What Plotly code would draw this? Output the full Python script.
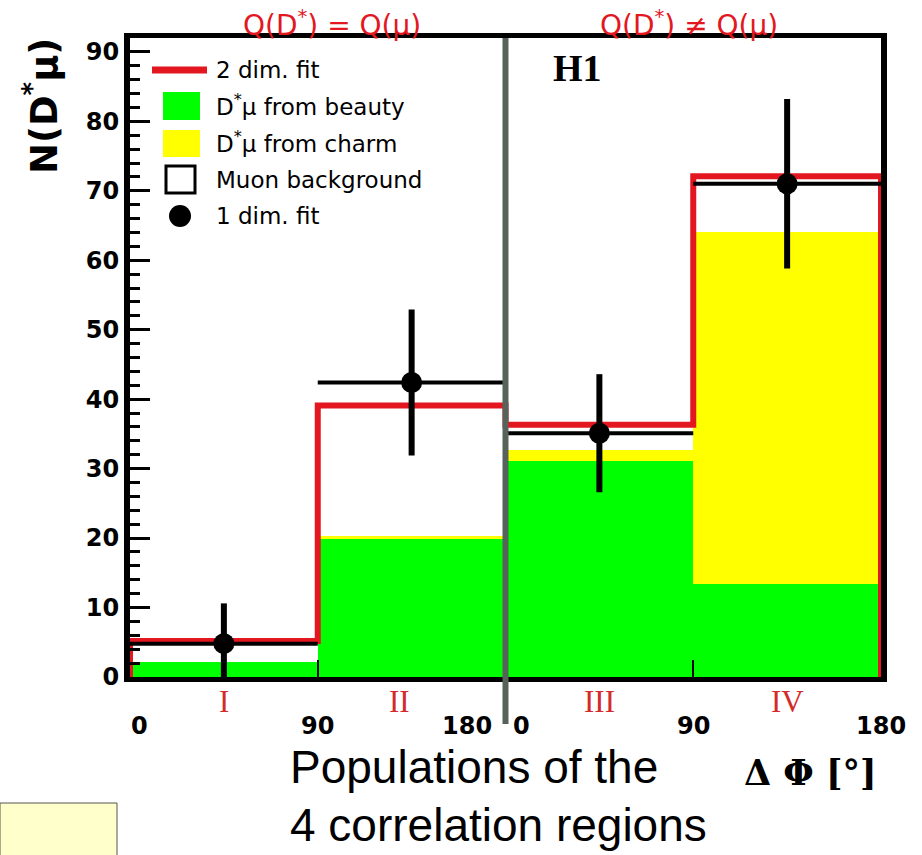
import plotly.graph_objects as go

# ---------------- data ----------------
bin_edges = [0, 90, 180, 270, 360]          # two halves of 0..180 deg each
region_labels = ["I", "II", "III", "IV"]
beauty = [2.2, 19.9, 31.1, 13.4]            # D*mu from beauty
charm = [0.0, 0.4, 1.6, 50.6]               # D*mu from charm
muon_bkg = [3.0, 18.8, 3.6, 8.1]            # muon background
fit1d = [4.8, 42.4, 35.1, 71.0]             # 1 dim. fit
fit1d_err = [5.8, 10.5, 8.5, 12.2]
dphi_ticks = [0, 90, 180]
dphi_tick_text = ["0", "90", "180"]

# ---------------- derived from data ----------------
centers = [(bin_edges[i] + bin_edges[i + 1]) / 2 for i in range(4)]
widths = [bin_edges[i + 1] - bin_edges[i] for i in range(4)]
half_w = [w / 2 for w in widths]
fit2d = [b + c + m for b, c, m in zip(beauty, charm, muon_bkg)]

step_x = [bin_edges[0]] + bin_edges[:-1] + [bin_edges[-1], bin_edges[-1]]
step_y = [0] + fit2d + [fit2d[-1], 0]

# ---------------- layout geometry ----------------
W, H = 922, 855
L, R, T, B = 130, 881, 38, 677
PW, PH = R - L, B - T
def PX(px):
    return (px - L) / PW
def PY(py):
    return (B - py) / PH

RED = "#e3171f"
SANS = "DejaVu Sans"
SERIF = "Liberation Serif"

fig = go.Figure()
fig.add_trace(go.Bar(x=centers, y=beauty, width=widths, marker=dict(color="#00ff00", line=dict(width=0)),
                     name="D*μ from beauty", showlegend=False))
fig.add_trace(go.Bar(x=centers, y=charm, width=widths, marker=dict(color="#ffff00", line=dict(width=0)),
                     name="D*μ from charm", showlegend=False))
fig.add_trace(go.Bar(x=centers, y=muon_bkg, width=widths, marker=dict(color="#ffffff", line=dict(width=0)),
                     name="Muon background", showlegend=False))
fig.add_trace(go.Scatter(x=step_x, y=step_y, mode="lines", line=dict(color=RED, width=6, shape="hv"),
                         name="2 dim. fit", showlegend=False))
fig.add_trace(go.Scatter(x=centers, y=fit1d, mode="markers",
                         marker=dict(color="black", size=21),
                         error_x=dict(type="data", array=half_w, color="black", thickness=4, width=0),
                         error_y=dict(type="data", array=fit1d_err, color="black", thickness=6, width=0),
                         name="1 dim. fit", showlegend=False))

annotations = []
shapes = []

# divider between the two charge regions
shapes.append(dict(type="line", xref="x", yref="paper", x0=bin_edges[2], x1=bin_edges[2],
                   y0=PY(724), y1=1.0, line=dict(color="#57625a", width=6), layer="above"))

# x tick labels (two 0..180 halves)
for half in range(2):
    for v, t in zip(dphi_ticks, dphi_tick_text):
        xv = v + half * 180
        anchor, shift = "center", 0
        if half == 0 and v == 0:
            shift = 9
        if half == 0 and v == 180:
            anchor, shift = "right", -12
        if half == 1 and v == 0:
            anchor, shift = "left", 5
        annotations.append(dict(x=xv, y=PY(726), xref="x", yref="paper", text=t, showarrow=False,
                                xanchor=anchor, yanchor="middle", xshift=shift,
                                font=dict(family=SANS, size=24, color="black", weight="bold")))

# region labels
for c, lab in zip(centers, region_labels):
    annotations.append(dict(x=c, y=PY(701), xref="x", yref="paper", text=lab, showarrow=False,
                            xshift=-12 if lab == "II" else 0, yanchor="middle",
                            font=dict(family=SERIF, size=31, color="#d42a2a")))

# top titles
annotations.append(dict(x=90, y=PY(23), xref="x", yref="paper", text="Q(D<sup>*</sup>) = Q(μ)",
                        showarrow=False, xshift=14, yanchor="middle",
                        font=dict(family=SANS, size=28, color=RED)))
annotations.append(dict(x=270, y=PY(23), xref="x", yref="paper", text="Q(D<sup>*</sup>) ≠ Q(μ)",
                        showarrow=False, xshift=-4, yanchor="middle",
                        font=dict(family=SANS, size=28, color=RED)))

# y title
annotations.append(dict(x=PX(42), y=PY(106), xref="paper", yref="paper", text="N(D<sup>*</sup>μ)",
                        textangle=-90, showarrow=False, xanchor="center", yanchor="middle",
                        font=dict(family=SANS, size=37, color="black", weight="bold")))

# H1
annotations.append(dict(x=PX(577), y=PY(68), xref="paper", yref="paper", text="H1", showarrow=False,
                        xanchor="center", yanchor="middle",
                        font=dict(family=SERIF, size=38, color="black", weight="bold")))

# x title
annotations.append(dict(x=PX(879), y=PY(772), xref="paper", yref="paper", text="Δ Φ [°]", showarrow=False,
                        xanchor="right", yanchor="middle",
                        font=dict(family="DejaVu Serif", size=35, color="black", weight="bold")))

# caption
annotations.append(dict(x=PX(288), y=PY(767), xref="paper", yref="paper", text="Populations of the",
                        showarrow=False, xanchor="left", yanchor="middle",
                        font=dict(family="Liberation Sans", size=46, color="black")))
annotations.append(dict(x=PX(288), y=PY(825), xref="paper", yref="paper", text="4 correlation regions",
                        showarrow=False, xanchor="left", yanchor="middle",
                        font=dict(family="Liberation Sans", size=46, color="black")))

# legend (drawn)
leg_font = dict(family=SANS, size=23, color="black")
shapes.append(dict(type="line", xref="paper", yref="paper", x0=PX(152), x1=PX(207), y0=PY(70), y1=PY(70),
                   line=dict(color=RED, width=7)))
shapes.append(dict(type="rect", xref="paper", yref="paper", x0=PX(163), x1=PX(200), y0=PY(120), y1=PY(92),
                   fillcolor="#00ff00", line=dict(width=0)))
shapes.append(dict(type="rect", xref="paper", yref="paper", x0=PX(163), x1=PX(200), y0=PY(157), y1=PY(130),
                   fillcolor="#ffff00", line=dict(width=0)))
shapes.append(dict(type="rect", xref="paper", yref="paper", x0=PX(166), x1=PX(195), y0=PY(193), y1=PY(166),
                   fillcolor="white", line=dict(color="black", width=3)))
shapes.append(dict(type="circle", xref="paper", yref="paper", x0=PX(169), x1=PX(191), y0=PY(227), y1=PY(205),
                   fillcolor="black", line=dict(width=0)))
for txt, py in [("2 dim. fit", 70), ("D<sup>*</sup>μ from beauty", 105), ("D<sup>*</sup>μ from charm", 142),
                ("Muon background", 180), ("1 dim. fit", 216)]:
    annotations.append(dict(x=PX(214), y=PY(py), xref="paper", yref="paper", text=txt, showarrow=False,
                            xanchor="left", yanchor="middle", font=leg_font))

# light yellow box bottom-left
shapes.append(dict(type="rect", xref="paper", yref="paper", x0=PX(0), x1=PX(117), y0=PY(856), y1=PY(803),
                   fillcolor="#ffffcc", line=dict(color="#555555", width=1)))

fig.update_layout(
    width=W, height=H, autosize=False,
    margin=dict(l=L, r=W - R, t=T, b=H - B, pad=0),
    paper_bgcolor="white", plot_bgcolor="white",
    barmode="stack", bargap=0, showlegend=False,
    annotations=annotations, shapes=shapes,
    xaxis=dict(range=[bin_edges[0], bin_edges[-1]], showgrid=False, zeroline=False,
               showline=True, linecolor="black", linewidth=5, mirror=True,
               tickvals=[90, 270], ticks="inside", ticklen=17, tickwidth=2, tickcolor="black",
               showticklabels=False),
    yaxis=dict(range=[0, 92], showgrid=False, zeroline=False,
               showline=True, linecolor="black", linewidth=6, mirror=True,
               tickvals=list(range(0, 91, 10)), ticks="inside", ticklen=20, tickwidth=3, tickcolor="black",
               minor=dict(dtick=2, ticks="inside", ticklen=10, tickwidth=3, tickcolor="black"),
               tickfont=dict(family=SANS, size=24, color="black", weight="bold")),
)

fig.write_html("out.html")
